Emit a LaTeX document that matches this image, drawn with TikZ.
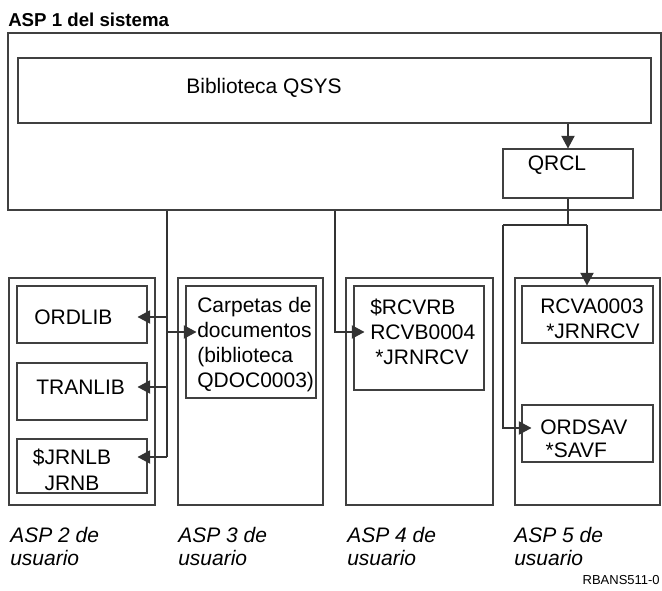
\documentclass[tikz,border=0pt]{standalone}
\usepackage{fontspec}
\setmainfont{Liberation Sans}
\usetikzlibrary{positioning,fit,arrows.meta}

\tikzset{
  box/.style={draw=black!75, line width=0.8pt, inner sep=0pt},
  txt/.style={inner sep=0pt, align=left, font=\fontsize{15.75}{18.75}\selectfont},
  asplbl/.style={inner sep=0pt, anchor=west, align=left, font=\fontsize{15.75}{17.25}\selectfont\itshape},
  link/.style={draw=black!80, line width=0.8pt},
  arr/.style={link, -{Triangle[length=9.5pt,width=10pt]}},
}

\begin{document}
\begin{tikzpicture}[x=0.75pt,y=-0.75pt]
    \useasboundingbox (0,0) rectangle (662,591);

    % ASP del sistema
    \node[anchor=west, inner sep=0pt, font=\fontsize{14}{16}\selectfont\bfseries] (title) at (8,20) {ASP 1 del sistema};
    \node[box, fit={(8,33) (661,210)}] (sys) {};
    \node[box, fit={(18,58) (651,123)}] (qsys) {};
    \node[txt] (qsystxt) at (264,88) {Biblioteca QSYS};
    \node[box, fit={(503,149) (633,198)}] (qrcl) {};
    \node[txt] (qrcltxt) at (557,165) {QRCL};

    % ASP de usuario
    \node[box, fit={(9,278) (155,505)}] (asp2) {};
    \node[box, fit={(178,278) (323,505)}] (asp3) {};
    \node[box, fit={(346,278) (493,505)}] (asp4) {};
    \node[box, fit={(515,278) (660,505)}] (asp5) {};

    \node[box, fit={(17,286) (147,343)}] (ordlib) {};
    \node[box, fit={(17,363) (147,420)}] (tranlib) {};
    \node[box, fit={(17,439) (147,493)}] (jrnlb) {};
    \node[box, fit={(186,286) (316,398)}] (carpetas) {};
    \node[box, fit={(354,286) (484,390)}] (rcvrb) {};
    \node[box, fit={(522,286) (653,343)}] (rcva) {};
    \node[box, fit={(522,405) (653,462)}] (ordsav) {};

    \node[txt, anchor=west] (ordlibtxt) at (34,317) {ORDLIB};
    \node[txt, anchor=west] (tranlibtxt) at (36,387) {TRANLIB};
    \node[txt, align=center, font=\fontsize{15.75}{19.5}\selectfont] (jrnlbtxt) at (72,470) {\$JRNLB\\JRNB};
    \node[txt, anchor=west] (carptxt) at (197,344.5) {Carpetas de\\documentos\\(biblioteca\\QDOC0003)};
    \node[txt, anchor=west] (rcvrbtxt) at (370,332) {\$RCVRB\\RCVB0004\\\hspace{3.75pt}*JRNRCV};
    \node[txt, anchor=west] (rcvatxt) at (540,319) {RCVA0003\\\hspace{4.5pt}*JRNRCV};
    \node[txt, anchor=west, font=\fontsize{15.75}{17.5}\selectfont] (ordsavtxt) at (540,438.5) {ORDSAV\\\hspace{4pt}*SAVF};

    \node[asplbl] (lbl2) at (10,546.5) {ASP 2 de\\usuario};
    \node[asplbl] (lbl3) at (178,546.5) {ASP 3 de\\usuario};
    \node[asplbl] (lbl4) at (347,546.5) {ASP 4 de\\usuario};
    \node[asplbl] (lbl5) at (514,546.5) {ASP 5 de\\usuario};
    \node[anchor=east, inner sep=0pt, font=\fontsize{9.75}{11}\selectfont] (code) at (660,580) {RBANS511-0};

    % conexiones
    \draw[arr] (qsys.south -| qrcl) -- (qrcl.north);

    \coordinate (trunkA) at (167,457);
    \coordinate (docs) at (167,332);
    \draw[link] (sys.south -| trunkA) -- (trunkA);
    \draw[arr, shorten >=-7.5pt] (trunkA |- ordlibtxt) -- (ordlib.east |- ordlibtxt);
    \draw[arr, shorten >=-7.5pt] (trunkA |- tranlibtxt) -- (tranlib.east |- tranlibtxt);
    \draw[arr, shorten >=-7.5pt] (trunkA) -- (jrnlb.east |- trunkA);
    \draw[arr, shorten >=-8.25pt] (docs) -- (carpetas.west |- docs);

    \coordinate (trunkB) at (335,332);
    \draw[arr, shorten >=-8.25pt] (sys.south -| trunkB) |- (rcvrb.west |- trunkB);

    \coordinate (fork) at (568,225);
    \coordinate (forkL) at (503,225);
    \coordinate (forkR) at (587,225);
    \coordinate (savarr) at (503,428);
    \draw[link] (qrcl.south) -- (fork);
    \draw[link] (forkL) -- (forkR);
    \draw[arr] (forkR) -- (forkR |- rcva.north);
    \draw[arr, shorten >=-7.5pt] (forkL) -- (savarr) -- (ordsav.west |- savarr);
\end{tikzpicture}
\end{document}
